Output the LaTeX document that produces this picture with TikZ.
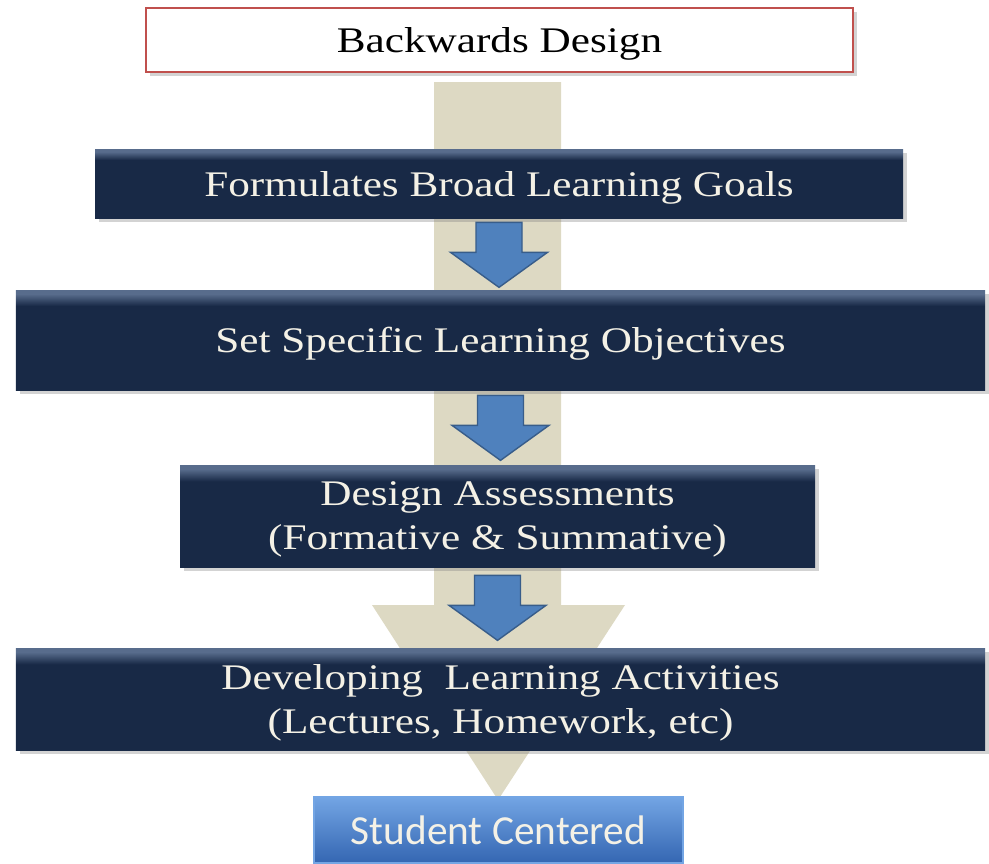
\documentclass[tikz,border=0pt]{standalone}
\usepackage{fontspec}
\setmainfont{Liberation Serif}[FakeStretch=1.2]
\newfontfamily\calibri{Carlito}
\usetikzlibrary{shadows,calc}
\definecolor{navy}{RGB}{24,41,70}
\definecolor{navytop}{RGB}{88,108,140}
\definecolor{tan}{RGB}{221,217,195}
\definecolor{boxred}{RGB}{192,80,77}
\definecolor{arrowblue}{RGB}{79,129,189}
\definecolor{arrowedge}{RGB}{56,93,138}
\definecolor{paletext}{RGB}{244,241,230}
\definecolor{goaltop}{RGB}{115,165,228}
\definecolor{goalbot}{RGB}{52,102,178}
\pgfdeclareverticalshading{navybevel}{100bp}{color(0bp)=(navy); color(67bp)=(navy); color(73bp)=(navytop); color(100bp)=(navytop)}
\tikzset{
  downarrow/.pic={
    \draw[fill=arrowblue, draw=arrowedge, line width=0.8pt]
      (-0.46,0) -- (0.46,0) -- (0.46,-0.6) -- (0.97,-0.6) -- (0,-1.3)
      -- (-0.97,-0.6) -- (-0.46,-0.6) -- cycle;
  }
}
\begin{document}
\begin{tikzpicture}[
    boxshadow/.style={drop shadow={shadow xshift=0.07cm, shadow yshift=-0.07cm, opacity=0.35}},
    titlebox/.style={draw=boxred, line width=1.5pt, fill=white, boxshadow, text depth=0pt,
      font=\fontsize{20.5}{25}\selectfont},
    stepbox/.style={shading=navybevel, text=paletext, align=center, boxshadow,
      inner sep=0pt, text depth=0pt, font=\fontsize{20.5}{25}\selectfont},
    goalbox/.style={draw=goaltop, line width=0.8pt, top color=goaltop, bottom color=goalbot,
      text=paletext, font=\calibri\fontsize{23.5}{28}\selectfont}
  ]
  \useasboundingbox (0,0) rectangle (19.78,-17.26);
  % big arrow behind the steps
  \fill[tan] (8.68,-1.64) -- (11.22,-1.64) -- (11.22,-12.1) -- (12.50,-12.1)
    -- (9.96,-16.0) -- (7.44,-12.1) -- (8.68,-12.1) -- cycle;
  \node[titlebox, minimum width=14.14cm, minimum height=1.28cm] (title) at (9.99,-0.80) {Backwards Design};
  \node[stepbox, minimum width=16.16cm, minimum height=1.38cm] (goals) at (9.98,-3.67)
    {Formulates Broad Learning Goals};
  \node[stepbox, minimum width=19.38cm, minimum height=2.0cm] (objectives) at (10.01,-6.80)
    {Set Specific Learning Objectives};
  \node[stepbox, minimum width=12.7cm, minimum height=2.04cm] (assess) at (9.95,-10.32)
    {Design Assessments\\(Formative \& Summative)};
  \node[stepbox, minimum width=19.38cm, minimum height=2.04cm] (activities) at (10.01,-13.98)
    {Developing\ \ Learning Activities\\(Lectures, Homework, etc)};
  \node[goalbox, minimum width=7.38cm, minimum height=1.32cm] (student) at (9.97,-16.60)
    {Student Centered};
  \pic at ($(goals.south)+(0,-0.08)$) {downarrow};
  \pic at ($(objectives.south)+(0,-0.10)$) {downarrow};
  \pic at ($(assess.south)+(0,-0.16)$) {downarrow};
\end{tikzpicture}
\end{document}
